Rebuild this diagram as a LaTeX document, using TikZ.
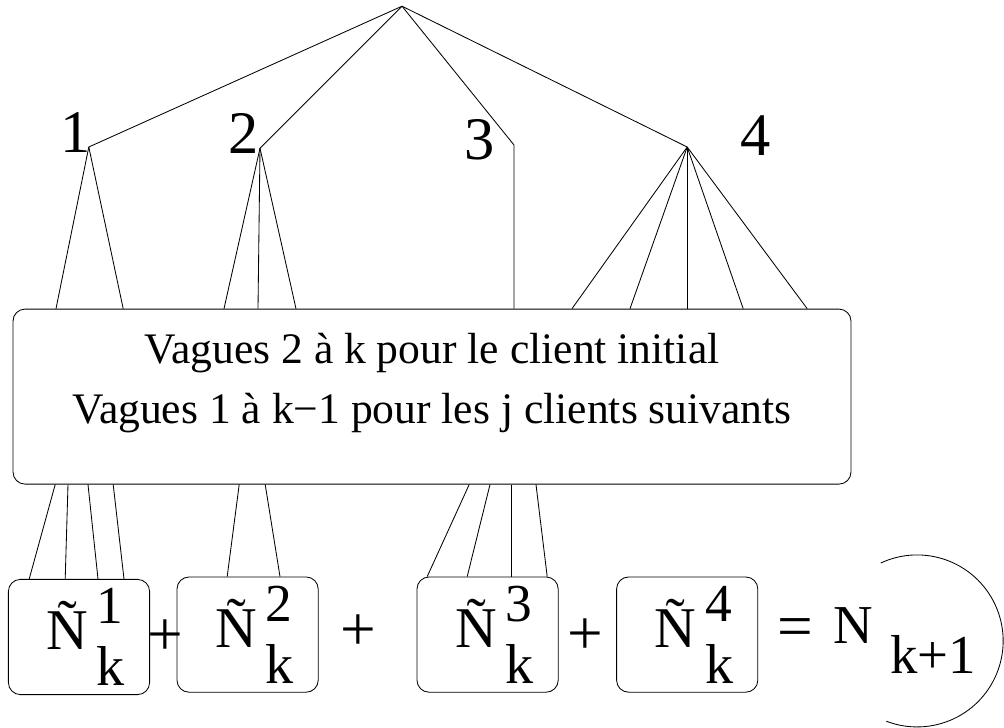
\documentclass[tikz,border=0pt]{standalone}
\usepackage{fontspec}
\setmainfont{Liberation Serif}
% tilde N with the wave number on top and k below
\newcommand{\ntk}[1]{\kern0.24em Ñ\kern0.15em\rlap{\raisebox{0.45em}{\fontsize{38}{38}\selectfont #1}}\raisebox{-0.62em}{\fontsize{40}{40}\selectfont k}}
\tikzset{
    wave/.style={draw, rounded corners=0.3cm, inner sep=0pt},
    part/.style={wave, minimum width=3.53cm, minimum height=2.88cm, font=\fontsize{41}{41}\selectfont},
    big/.style={inner sep=0pt, font=\fontsize{43}{43}\selectfont},
    op/.style={inner sep=0pt, font=\fontsize{45}{45}\selectfont},
}
\begin{document}
\begin{tikzpicture}[line width=0.6pt]
    \useasboundingbox (0,0) rectangle (25.1,18.175);
    % the four clients below the root
    \coordinate (root) at (10.05,18.02);
    \coordinate (v1) at (2.22,14.5);
    \coordinate (v2) at (6.5,14.47);
    \coordinate (v3) at (12.85,14.55);
    \coordinate (v4) at (17.18,14.5);
    \node[big] (l1) at (1.89,14.86) {1};
    \node[big] (l2) at (6.1,14.83) {2};
    \node[big] (l3) at (11.99,14.68) {3};
    \node[big] (l4) at (18.9,14.79) {4};

    \node[wave, minimum width=20.95cm, minimum height=4.375cm] (vagues) at (10.8,8.26) {};
    \node[align=center, font=\fontsize{31}{42.7}\selectfont] (txt) at (10.8,8.59)
        {Vagues 2 à k pour le client initial\\Vagues 1 à k−1 pour les j clients suivants};

    \draw (root) -- (v1);
    \draw (root) -- (v2);
    \draw (root) -- (v3) -- (vagues.north -| v3);
    \draw (root) -- (v4);
    \foreach \x in {1.4,3.08} \draw (v1) -- (vagues.north -| \x,0);
    \foreach \x in {5.6,6.45,7.4} \draw (v2) -- (vagues.north -| \x,0);
    \foreach \x in {14.3,15.75,17.18,18.58,20.18} \draw (v4) -- (vagues.north -| \x,0);

    % the sum of the four parts
    \node[part] (n1) at (1.975,2.25) {\ntk{1}};
    \node[part] (n2) at (6.19,2.31) {\ntk{2}};
    \node[part] (n3) at (12.19,2.31) {\ntk{3}};
    \node[part] (n4) at (17.18,2.31) {\ntk{4}};
    \node[op] (p1) at (4.13,2.23) {+};
    \node[op] (p2) at (8.95,2.35) {+};
    \node[op] (p3) at (14.63,2.25) {+};
    \node[op] (eq) at (19.88,2.35) {=};
    \node[anchor=base west, inner sep=0pt, font=\fontsize{39}{39}\selectfont] (nn) at (20.83,2.1) {N};
    \node[anchor=base west, inner sep=0pt, font=\fontsize{39}{39}\selectfont] (kk) at (22.25,1.35) {k+1};
    \draw (22.02,4.1) arc[start angle=115, end angle=-111, radius=2.15];

    \foreach \a/\b in {1.38/0.73, 1.7/1.63, 2.2/2.45, 2.83/3.1}
        \draw (vagues.south -| \a,0) -- (n1.north -| \b,0);
    \foreach \a/\b in {5.98/5.68, 6.63/7.0}
        \draw (vagues.south -| \a,0) -- (n2.north -| \b,0);
    \foreach \a/\b in {11.73/10.68, 12.25/11.68, 12.78/12.78, 13.4/13.68}
        \draw (vagues.south -| \a,0) -- (n3.north -| \b,0);
\end{tikzpicture}
\end{document}
